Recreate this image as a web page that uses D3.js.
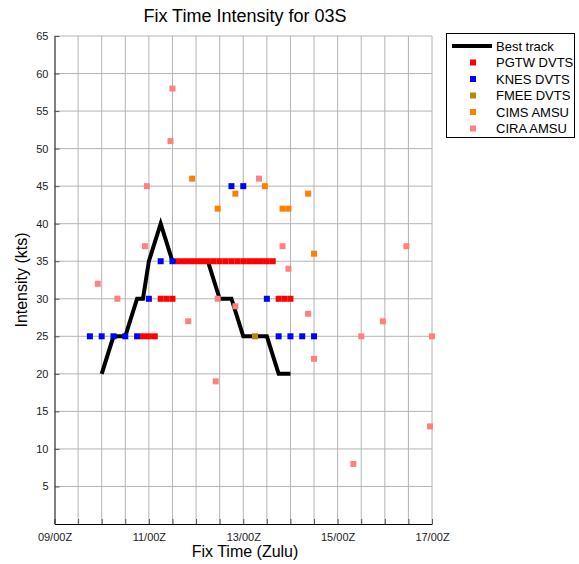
<!DOCTYPE html>
<html><head><meta charset="utf-8">
<script src="https://cdn.jsdelivr.net/npm/d3@7"></script>
<style>body{margin:0;background:#fff;} svg{display:block;font-family:"Liberation Sans",Arial,sans-serif;}</style>
</head><body>
<script>
// Times are "DD/HH" (Zulu), intensities in kts
const bestTrackTimes = ["10/00","10/06","10/12","10/18","10/21","11/00","11/06","11/12","11/18","12/00","12/06","12/12","12/18","13/00","13/06","13/12","13/18","14/00"];
const bestTrackValues = [20,25,25,30,30,35,40,35,35,35,35,30,30,25,25,25,20,20];

const pgtwTimes = ["10/21","11/00","11/03","11/06","11/09","11/12",
  "11/15","11/18","11/21","12/00","12/03","12/06","12/09","12/12","12/15","12/18","12/21","13/00","13/03","13/06","13/09","13/12","13/15",
  "13/18","13/21","14/00"];
const pgtwValues = [25,25,25,30,30,30,
  35,35,35,35,35,35,35,35,35,35,35,35,35,35,35,35,35,
  30,30,30];

const knesTimes = ["09/18","10/00","10/06","10/12","10/18","11/00","11/06","11/12","12/18","13/00","13/12","13/18","14/00","14/06","14/12"];
const knesValues = [25,25,25,25,25,30,35,35,45,45,30,25,25,25,25];

const fmeeTimes = ["13/06"];
const fmeeValues = [25];

const cimsTimes = ["11/22","12/11","12/20","13/11","13/20","13/23","14/09","14/12"];
const cimsValues = [46,42,44,45,42,42,44,36];

const ciraTimes = ["09/22","10/08","10/22","10/23","11/11","11/12","11/20","12/10","12/11","12/20","13/08","13/20","13/23","14/09","14/12","15/08","15/12","15/23","16/11","16/23","17/00"];
const ciraValues = [32,30,37,45,51,58,27,19,30,29,46,37,34,28,22,8,25,27,37,13,25];

const xTickLabels = ["09/00Z","11/00Z","13/00Z","15/00Z","17/00Z"];
const yTickValues = [5,10,15,20,25,30,35,40,45,50,55,60,65];

const seriesNames = ["PGTW DVTS","KNES DVTS","FMEE DVTS","CIMS AMSU","CIRA AMSU"];
const seriesColors = ["#ff0000","#0000ff","#b8860b","#ff8000","#ff8080"];

const toHours = s => { const [d,h] = s.split("/").map(Number); return (d-9)*24 + h; };

const W = 579, H = 564;
const svg = d3.select("body").append("svg").attr("width", W).attr("height", H);

const x = d3.scaleLinear().domain([0, 192]).range([54.5, 432]);
const y = d3.scaleLinear().domain([0, 65]).range([524, 36]);

// grid
const grid = svg.append("g");
grid.selectAll("line.v").data(d3.range(12, 193, 12)).enter().append("line")
  .attr("x1", d => x(d)).attr("x2", d => x(d)).attr("y1", y(0)).attr("y2", y(65))
  .attr("stroke", "#b4b4b4").attr("stroke-width", 1);
grid.selectAll("line.h").data(yTickValues).enter().append("line")
  .attr("x1", x(0)).attr("x2", x(192)).attr("y1", d => y(d)).attr("y2", d => y(d))
  .attr("stroke", "#b4b4b4").attr("stroke-width", 1);

// axes
const xAxis = d3.axisBottom(x).tickValues(d3.range(0, 193, 12))
  .tickFormat(d => d % 48 === 0 ? xTickLabels[d/48] : "")
  .tickSizeInner(-5).tickSizeOuter(0).tickPadding(9);
const gx = svg.append("g").attr("transform", `translate(0,${y(0)})`).call(xAxis);
const yAxis = d3.axisLeft(y).tickValues(yTickValues).tickSizeInner(-5).tickSizeOuter(0).tickPadding(6);
const gy = svg.append("g").attr("transform", `translate(${x(0)},0)`).call(yAxis);
[gx, gy].forEach(g => {
  g.selectAll("text").attr("font-size", 11).attr("fill", "#222").attr("font-family", "Liberation Sans, Arial, sans-serif");
  g.selectAll("line").attr("stroke", "#555");
  g.select(".domain").attr("stroke", "#000");
});

// best track
const bt = bestTrackTimes.map((t,i) => [toHours(t), bestTrackValues[i]]);
svg.append("path").datum(bt)
  .attr("d", d3.line().x(d => x(d[0])).y(d => y(d[1])))
  .attr("fill", "none").attr("stroke", "#000").attr("stroke-width", 4).attr("stroke-linejoin", "miter");

// markers
const seriesData = [[pgtwTimes,pgtwValues],[knesTimes,knesValues],[fmeeTimes,fmeeValues],[cimsTimes,cimsValues],[ciraTimes,ciraValues]];
const ms = 6;
seriesData.forEach(([ts, vs], k) => {
  svg.append("g").selectAll("rect").data(ts.map((t,i) => [toHours(t), vs[i]])).enter().append("rect")
    .attr("x", d => x(d[0]) - ms/2).attr("y", d => y(d[1]) - ms/2)
    .attr("width", ms).attr("height", ms).attr("fill", seriesColors[k]);
});

// title & axis labels
svg.append("text").attr("x", 245).attr("y", 22).attr("text-anchor", "middle")
  .attr("font-size", 18).attr("fill", "#000").text("Fix Time Intensity for 03S");
svg.append("text").attr("x", 245).attr("y", 557).attr("text-anchor", "middle")
  .attr("font-size", 16).attr("fill", "#000").text("Fix Time (Zulu)");
svg.append("text").attr("transform", "translate(27,280) rotate(-90)").attr("text-anchor", "middle")
  .attr("font-size", 16).attr("fill", "#000").text("Intensity (kts)");

// legend
const lg = svg.append("g");
lg.append("rect").attr("x", 446.5).attr("y", 33.5).attr("width", 128).attr("height", 104)
  .attr("fill", "#fff").attr("stroke", "#000").attr("stroke-width", 1);
const rowY = i => 46 + i * 16.5;
lg.append("line").attr("x1", 452).attr("x2", 492).attr("y1", rowY(0)).attr("y2", rowY(0))
  .attr("stroke", "#000").attr("stroke-width", 4);
lg.append("text").attr("x", 496).attr("y", rowY(0) + 4.5).attr("font-size", 13).text("Best track");
seriesNames.forEach((n, i) => {
  lg.append("rect").attr("x", 473 - ms/2).attr("y", rowY(i+1) - ms/2).attr("width", ms).attr("height", ms).attr("fill", seriesColors[i]);
  lg.append("text").attr("x", 496).attr("y", rowY(i+1) + 4.5).attr("font-size", 13).text(n);
});
</script>
</body></html>
